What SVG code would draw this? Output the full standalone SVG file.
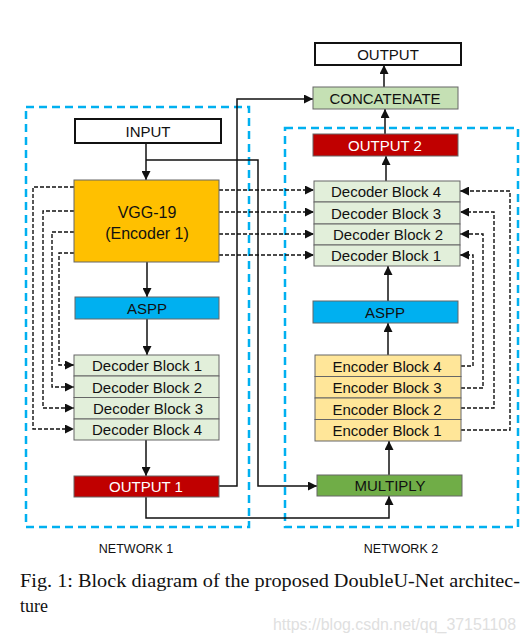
<svg xmlns="http://www.w3.org/2000/svg" width="526" height="636" viewBox="0 0 526 636">
<style>
.t{font-family:"Liberation Sans",Arial,sans-serif;font-size:15px;fill:#111;text-anchor:middle;dominant-baseline:central}
.w{fill:#fff}
.net{fill:none;stroke:#00B0F0;stroke-width:2.5;stroke-dasharray:8,5}
.box{stroke:#666;stroke-width:1}
.bk{fill:#fff;stroke:#111;stroke-width:2}
.c{fill:none;stroke:#111;stroke-width:1.5}
.d{fill:none;stroke:#111;stroke-width:1.4;stroke-dasharray:4,2}
.cap{font-family:"Liberation Serif","Times New Roman",serif;font-size:18px;fill:#111}
.lab{font-family:"Liberation Sans",Arial,sans-serif;font-size:12.5px;fill:#111;text-anchor:middle}
</style>
<defs>
<marker id="ah" viewBox="0 0 10 10" refX="10" refY="5" markerWidth="10" markerHeight="9" markerUnits="userSpaceOnUse" orient="auto"><path d="M0,0L10,5L0,10z" fill="#111"/></marker>
</defs>
<rect width="526" height="636" fill="#fff"/>
<g id="network1-frame"><rect class="net" x="26" y="107" width="223" height="420"/></g>
<g id="network2-frame"><rect class="net" x="285" y="128" width="233" height="399"/></g>

<g id="connectors">
<path class="c" d="M146,143V180" marker-end="url(#ah)"/>
<path class="c" d="M146,160H258V486H317" marker-end="url(#ah)"/>
<path class="c" d="M147,262V297" marker-end="url(#ah)"/>
<path class="c" d="M147,319V355" marker-end="url(#ah)"/>
<path class="c" d="M146,440V476" marker-end="url(#ah)"/>
<path class="c" d="M219,486H237V99H313" marker-end="url(#ah)"/>
<path class="c" d="M146,497V518H389V496" marker-end="url(#ah)"/>
<path class="c" d="M389,475V441" marker-end="url(#ah)"/>
<path class="c" d="M388,355V323" marker-end="url(#ah)"/>
<path class="c" d="M388,301V266" marker-end="url(#ah)"/>
<path class="c" d="M386,181V156" marker-end="url(#ah)"/>
<path class="c" d="M385,134V109" marker-end="url(#ah)"/>
<path class="c" d="M384,87V65" marker-end="url(#ah)"/>
<path class="d" d="M74,187H33V429H74" marker-end="url(#ah)"/>
<path class="d" d="M74,211H43V408H74" marker-end="url(#ah)"/>
<path class="d" d="M74,232H52V387H74" marker-end="url(#ah)"/>
<path class="d" d="M74,253H59V365H74" marker-end="url(#ah)"/>
<path class="d" d="M219,190H314" marker-end="url(#ah)"/>
<path class="d" d="M219,212H314" marker-end="url(#ah)"/>
<path class="d" d="M219,234H314" marker-end="url(#ah)"/>
<path class="d" d="M219,255H314" marker-end="url(#ah)"/>
<path class="d" d="M461,366H473V255H460" marker-end="url(#ah)"/>
<path class="d" d="M461,388H483V234H460" marker-end="url(#ah)"/>
<path class="d" d="M461,408H494V212H460" marker-end="url(#ah)"/>
<path class="d" d="M461,430H510V191H460" marker-end="url(#ah)"/>
</g>

<g id="input"><rect class="bk" x="75" y="119" width="146" height="24"/><text class="t" x="148" y="131">INPUT</text></g>
<g id="vgg19"><rect class="box" x="74" y="180" width="145" height="82" fill="#FFC000"/><text class="t" x="147" y="212" style="font-size:16px">VGG-19</text><text class="t" x="147" y="233" style="font-size:16px">(Encoder 1)</text></g>
<g id="aspp1"><rect class="box" x="75" y="297" width="144" height="22" fill="#00B0F0"/><text class="t" x="147" y="308">ASPP</text></g>
<g id="decoder1">
<rect class="box" x="74" y="355" width="145" height="21" fill="#E2EFDA"/><text class="t" x="147" y="365.5">Decoder Block 1</text>
<rect class="box" x="74" y="376" width="145" height="21.5" fill="#E2EFDA"/><text class="t" x="147" y="387">Decoder Block 2</text>
<rect class="box" x="74" y="397.5" width="145" height="21.5" fill="#E2EFDA"/><text class="t" x="148" y="408.5">Decoder Block 3</text>
<rect class="box" x="74" y="419" width="145" height="21" fill="#E2EFDA"/><text class="t" x="147" y="429.5">Decoder Block 4</text>
</g>
<g id="output1"><rect class="box" x="74" y="476" width="145" height="21" fill="#C00000"/><text class="t w" x="146" y="486.5">OUTPUT 1</text></g>

<g id="output"><rect class="bk" x="315" y="43" width="146" height="22"/><text class="t" x="388" y="54">OUTPUT</text></g>
<g id="concatenate"><rect class="box" x="313" y="87" width="145" height="22" fill="#C5E0B4"/><text class="t" x="385" y="98">CONCATENATE</text></g>
<g id="output2"><rect class="box" x="313" y="134" width="145" height="22" fill="#C00000"/><text class="t w" x="385" y="145">OUTPUT 2</text></g>
<g id="decoder2">
<rect class="box" x="314" y="181" width="146" height="21" fill="#E2EFDA"/><text class="t" x="386" y="191.5">Decoder Block 4</text>
<rect class="box" x="314" y="202" width="146" height="22" fill="#E2EFDA"/><text class="t" x="386" y="213">Decoder Block 3</text>
<rect class="box" x="314" y="224" width="146" height="21" fill="#E2EFDA"/><text class="t" x="388" y="234.5">Decoder Block 2</text>
<rect class="box" x="314" y="245" width="146" height="21" fill="#E2EFDA"/><text class="t" x="386" y="255.5">Decoder Block 1</text>
</g>
<g id="aspp2"><rect class="box" x="313" y="301" width="145" height="22" fill="#00B0F0"/><text class="t" x="385" y="312">ASPP</text></g>
<g id="encoder2">
<rect class="box" x="315" y="355" width="146" height="21.5" fill="#FFE699"/><text class="t" x="387" y="366">Encoder Block 4</text>
<rect class="box" x="315" y="376.5" width="146" height="21.5" fill="#FFE699"/><text class="t" x="387" y="387.5">Encoder Block 3</text>
<rect class="box" x="315" y="398" width="146" height="21.5" fill="#FFE699"/><text class="t" x="387" y="409">Encoder Block 2</text>
<rect class="box" x="315" y="419.5" width="146" height="21.5" fill="#FFE699"/><text class="t" x="387" y="430">Encoder Block 1</text>
</g>
<g id="multiply"><rect class="box" x="317" y="475" width="145" height="21" fill="#70AD47"/><text class="t" x="390" y="485.5">MULTIPLY</text></g>

<g id="labels">
<text class="lab" x="136" y="553">NETWORK 1</text>
<text class="lab" x="401" y="553">NETWORK 2</text>
<text class="cap" x="20" y="587" textLength="500" lengthAdjust="spacingAndGlyphs">Fig. 1: Block diagram of the proposed DoubleU-Net architec-</text>
<text class="cap" x="20" y="612">ture</text>
<text x="273" y="630" textLength="243" lengthAdjust="spacingAndGlyphs" style="font-family:'Liberation Sans',Arial,sans-serif;font-size:16px;fill:#e0e0e0">https://blog.csdn.net/qq_37151108</text>
</g>
</svg>
